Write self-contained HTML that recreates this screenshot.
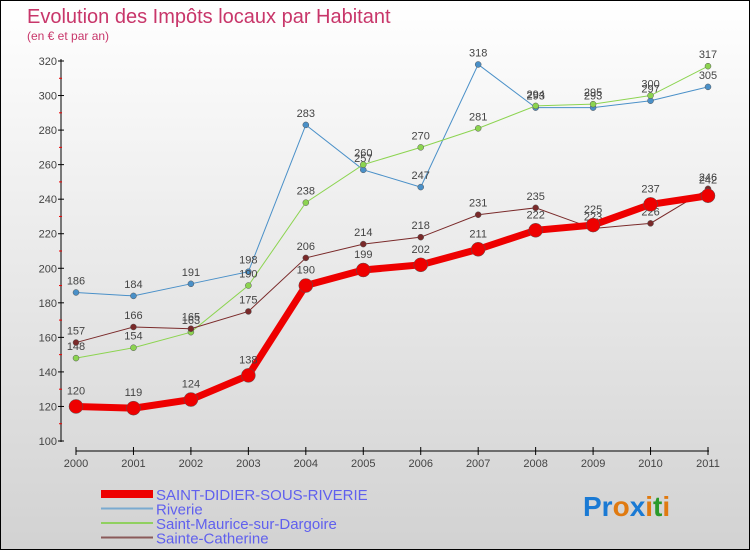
<!DOCTYPE html>
<html><head><meta charset="utf-8"><style>
body{margin:0;}
#wrap{width:750px;height:550px;position:relative;box-sizing:border-box;border:1px solid #000;background:linear-gradient(#ffffff,#d2d2d2);font-family:"Liberation Sans",sans-serif;overflow:hidden}
svg{position:absolute;left:0;top:0}
</style></head><body>
<div id="wrap">
<svg id="chart" width="750" height="550">
<text x="26" y="22" font-size="20" fill="#c8366a">Evolution des Impôts locaux par Habitant</text>
<text x="26" y="39" font-size="12" fill="#c8366a">(en € et par an)</text>
<g id="axes"></g>
<g id="series"></g>
<g id="legend"></g>
<text x="582" y="515" font-size="28" font-weight="bold"><tspan fill="#1a7ad4">Pr</tspan><tspan fill="#e07a10">o</tspan><tspan fill="#1a7ad4">x</tspan><tspan fill="#e07a10">i</tspan><tspan fill="#2a9a2a">t</tspan><tspan fill="#e07a10">i</tspan></text>
</svg>
</div>
<script>
const years=["2000","2001","2002","2003","2004","2005","2006","2007","2008","2009","2010","2011"];
const yTicks=[100,120,140,160,180,200,220,240,260,280,300,320];
const saintDidier=[120,119,124,138,190,199,202,211,222,225,237,242];
const riverie=[186,184,191,198,283,257,247,318,293,293,297,305];
const saintMaurice=[148,154,163,190,238,260,270,281,294,295,300,317];
const sainteCatherine=[157,166,165,175,206,214,218,231,235,223,226,246];
const NS="http://www.w3.org/2000/svg";
function xs(i){return 75+i*(707-75)/11;}
function ys(v){return 440-(v-100)*380/220;}
function mk(tag,attrs,parent){const e=document.createElementNS(NS,tag);for(const k in attrs)e.setAttribute(k,attrs[k]);parent.appendChild(e);return e;}
const axes=document.getElementById('axes');
let a=mk('line',{x1:60,y1:58,x2:60,y2:441,stroke:'#000'},axes);

a=mk('line',{x1:75,y1:450,x2:708,y2:450,stroke:'#000'},axes);

yTicks.forEach((v,i)=>{
 mk('line',{x1:57,y1:ys(v),x2:63,y2:ys(v),stroke:'#000'},axes);
 if(i<yTicks.length-1)mk('line',{x1:58,y1:ys(v+10),x2:61,y2:ys(v+10),stroke:'#e00'},axes);
 const t=mk('text',{x:56,y:ys(v)+4,'font-size':11,'text-anchor':'end',fill:'#444'},axes);t.textContent=v;
 
});
years.forEach((y,i)=>{
 mk('line',{x1:xs(i),y1:446,x2:xs(i),y2:454,stroke:'#000'},axes);
 const t=mk('text',{x:xs(i),y:466,'font-size':11,'text-anchor':'middle',fill:'#444'},axes);t.textContent=y;
 
});
const series=[
 {d:riverie,c:'#4a90c8',w:1,r:3,n:'riverie'},
 {d:saintMaurice,c:'#8cd450',w:1,r:3,n:'saint-maurice'},
 {d:sainteCatherine,c:'#7a2a2a',w:1,r:3,n:'sainte-catherine'},
 {d:saintDidier,c:'#ee0000',w:7,r:7,n:'saint-didier'}
];
const sg=document.getElementById('series');
series.forEach(s=>{
 const g=mk('g',{},sg);
 
 const p=mk('polyline',{points:s.d.map((v,i)=>xs(i)+','+ys(v)).join(' '),fill:'none',stroke:s.c,'stroke-width':s.w},g);
 
 s.d.forEach((v,i)=>{
  const c=mk('circle',{cx:xs(i),cy:ys(v),r:s.r,fill:s.c,stroke:'#555','stroke-width':0.5},g);
  
  const t=mk('text',{x:xs(i),y:ys(v)-(s.r+5),'font-size':11,'text-anchor':'middle',fill:'#444'},g);t.textContent=v;
  
 });
});
const lg=document.getElementById('legend');
const leg=[['SAINT-DIDIER-SOUS-RIVERIE','#ee0000',8],['Riverie','#7aaad0',2],['Saint-Maurice-sur-Dargoire','#90d060',2],['Sainte-Catherine','#8a5a5a',2]];
leg.forEach((l,i)=>{
 const y=493+i*14.5;
 const g=mk('g',{},lg);
 
 mk('line',{x1:100,y1:y,x2:152,y2:y,stroke:l[1],'stroke-width':l[2]},g);
 const t=mk('text',{x:155,y:y+6,'font-size':15,fill:'#6060ee'},g);t.textContent=l[0];
});
</script>
</body></html>
